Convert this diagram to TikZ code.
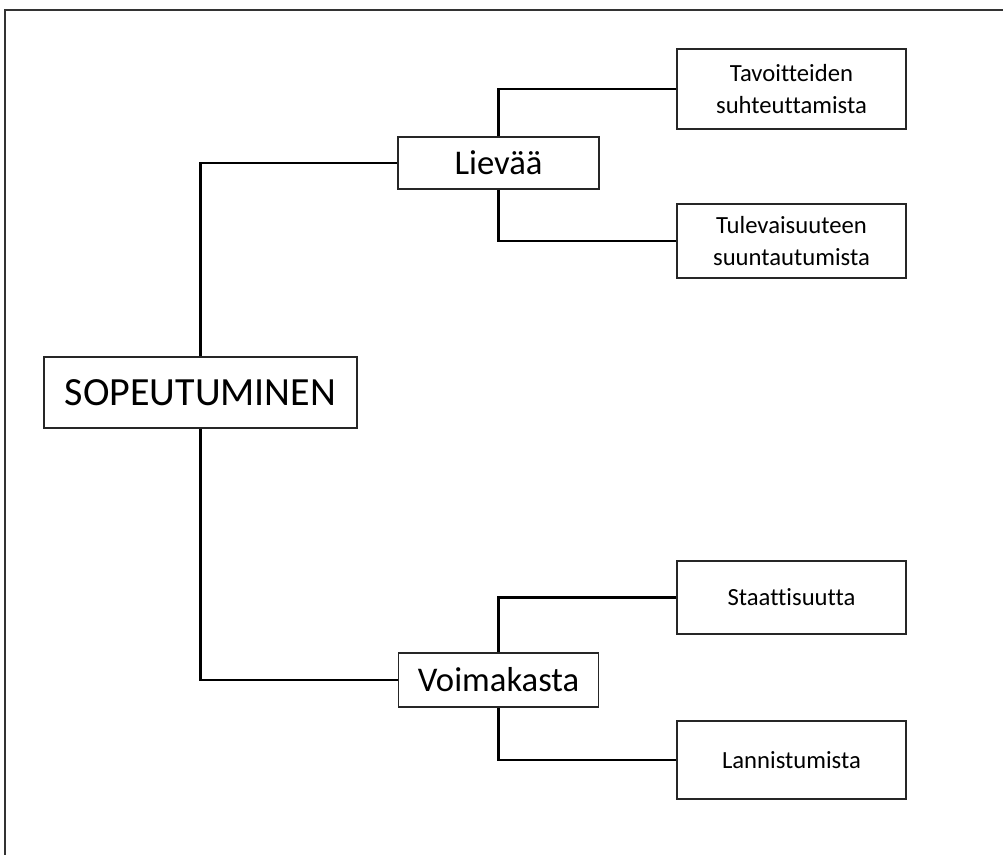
\documentclass[tikz,border=0pt]{standalone}
\usepackage{fontspec}
\setmainfont[Ligatures=NoCommon]{Carlito}
\usepackage{tikz}
\usetikzlibrary{calc,positioning}

\tikzset{
	box/.style={draw=black!85, line width=0.9pt, fill=white, inner sep=0pt, align=center},
	bigbox/.style={box, font=\fontsize{30}{34}\selectfont},
	midbox/.style={box, font=\fontsize{26}{30}\selectfont},
	smallbox/.style={box, font=\fontsize{18.5}{24}\selectfont, minimum width=229*0.75pt},
	link/.style={line width=2.2pt, black}
}

\begin{document}
\begin{tikzpicture}[x=0.75pt, y=-0.75pt]
	\useasboundingbox (0, 0) rectangle (1003, 855);
	\draw[line width=1.5pt, black!80] (5, 855) -- (5, 10) -- (1003, 10);
	%%%%%
	\node[bigbox, minimum width=313*0.75pt, minimum height=71*0.75pt] (root) at (200.5, 392.5) {SOPEUTUMINEN};
	\node[midbox, minimum width=201*0.75pt, minimum height=52*0.75pt] (lieva) at (498.5, 163) {Lievää};
	\node[midbox, minimum width=200*0.75pt, minimum height=54*0.75pt] (voima) at (498.5, 680) {Voimakasta};
	%%%%%
	\node[smallbox, minimum height=80*0.75pt] (tavoite) at (791.5, 89) {Tavoitteiden\\suhteuttamista};
	\node[smallbox, minimum height=74*0.75pt] (tulevai) at (791.5, 241) {Tulevaisuuteen\\suuntautumista};
	\node[smallbox, minimum height=73*0.75pt] (staatti) at (791.5, 597.5) {Staattisuutta};
	\node[smallbox, minimum height=78*0.75pt] (lannist) at (791.5, 760) {Lannistumista};
	%%%%%
	\draw[link] (root.north) |- (lieva.west);
	\draw[link] (root.south) |- (voima.west);
	\draw[link] (lieva.north) |- (tavoite.west);
	\draw[link] (lieva.south) |- (tulevai.west);
	\draw[link] (voima.north) |- (staatti.west);
	\draw[link] (voima.south) |- (lannist.west);
\end{tikzpicture}
\end{document}
